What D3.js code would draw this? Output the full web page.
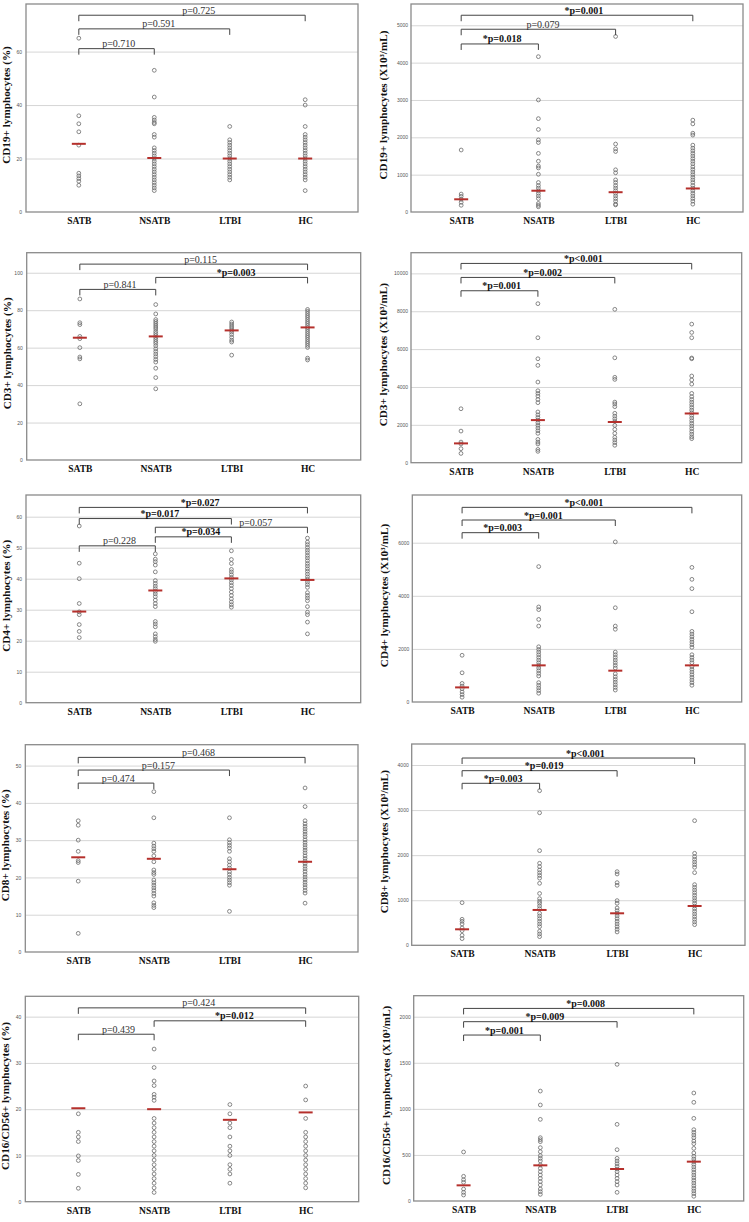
<!DOCTYPE html>
<html><head><meta charset="utf-8">
<script src="https://cdn.jsdelivr.net/npm/d3@7"></script>
<style>
html,body{margin:0;padding:0;background:#fff;}
svg{display:block;}
</style></head>
<body>
<svg id="chart" width="749" height="1222"></svg>
<script>
const groups = ["SATB", "NSATB", "LTBI", "HC"];

// ---- CD19+ (%) ----
const cd19Pct = [
  [65, 36, 33, 30, 25, 14.5, 13.5, 12.5, 11.5, 10],
  [53, 43, 35.4, 34.4, 33.5, 33, 29, 28, 24, 23, 22, 21, 20, 19, 18, 17, 16, 15, 14, 13, 12, 11, 10, 9, 8],
  [32, 27, 26, 25, 24, 23, 22, 21, 20, 19, 18, 17, 16, 15, 14, 13, 12],
  [42, 40, 32, 29, 28, 27, 26, 25, 24, 23, 22, 21, 20, 19, 18, 17, 16, 15, 14, 13, 12, 8]
];
const cd19PctMed = [25.5, 20.2, 20, 20];
const cd19PctTicks = [0, 20, 40, 60];
const cd19PctP = [[0, 3, 73.6, "p=0.725"], [0, 2, 68.5, "p=0.591"], [0, 1, 61.1, "p=0.710"]];

// ---- CD19+ (abs) ----
const cd19Abs = [
  [1660, 480, 420, 340, 260, 180],
  [4160, 3000, 2500, 2210, 1930, 1860, 1570, 1360, 1230, 1180, 1010, 790, 710, 640, 570, 500, 430, 360, 230, 180, 140],
  [4700, 1820, 1690, 1620, 1130, 1050, 860, 790, 710, 640, 570, 500, 430, 360, 290, 210, 190],
  [2460, 2360, 2110, 2060, 1790, 1710, 1640, 1570, 1500, 1430, 1360, 1290, 1210, 1140, 1070, 1000, 930, 860, 790, 710, 640, 570, 500, 430, 360, 290, 210]
];
const cd19AbsMed = [340, 570, 530, 630];
const cd19AbsTicks = [0, 1000, 2000, 3000, 4000, 5000];
const cd19AbsP = [[0, 3, 5269, "*p=0.001"], [0, 2, 4894, "p=0.079"], [0, 1, 4500, "*p=0.018"]];

// ---- CD3+ (%) ----
const cd3Pct = [
  [86, 73.3, 72.3, 66, 64.8, 60, 55, 54, 30],
  [83, 78, 75, 74, 73, 72, 71, 70, 68.7, 67.6, 66.5, 65.5, 64.4, 63.3, 62.3, 61, 59.4, 58, 56.6, 55.2, 53.7, 52.3, 49, 44, 38],
  [73.7, 72.6, 71.5, 70.5, 69.4, 68.3, 67, 65.5, 64, 63, 56],
  [80.4, 79.4, 78.3, 77.2, 76.2, 75.1, 74, 73, 71.9, 70.8, 69.8, 68.7, 67.6, 66.5, 65.5, 64.4, 63.3, 62.3, 61.2, 60.1, 54.4, 53.4]
];
const cd3PctMed = [65.3, 66, 69.2, 70.8];
const cd3PctTicks = [0, 20, 40, 60, 80, 100];
const cd3PctP = [[0, 3, 104.6, "p=0.115"], [1, 3, 97.5, "*p=0.003"], [0, 1, 91.1, "p=0.841"]];

// ---- CD3+ (abs) ----
const cd3Abs = [
  [2850, 1670, 1090, 990, 740, 490],
  [8400, 6600, 5490, 5140, 4260, 3800, 3660, 3520, 3340, 3170, 2680, 2530, 2390, 2250, 2110, 1970, 1830, 1690, 1550, 1230, 1090, 990, 700, 600],
  [8100, 5540, 4510, 4400, 3200, 3100, 2960, 2610, 2460, 2320, 2180, 1970, 1760, 1550, 1340, 1200, 1060, 920],
  [7320, 6880, 6600, 5530, 5490, 4580, 4370, 4150, 3660, 3490, 3340, 3200, 3060, 2920, 2780, 2640, 2500, 2360, 2220, 2080, 1940, 1800, 1650, 1510, 1370, 1270]
];
const cd3AbsMed = [1020, 2250, 2150, 2600];
const cd3AbsTicks = [0, 2000, 4000, 6000, 8000, 10000];
const cd3AbsP = [[0, 3, 10525, "*p<0.001"], [0, 2, 9786, "*p=0.002"], [0, 1, 9082, "*p=0.001"]];

// ---- CD4+ (%) ----
const cd4Pct = [
  [57, 45, 40, 32, 29.3, 28.4, 25.2, 23, 21],
  [48, 46.3, 45.5, 44.4, 42.2, 39.4, 38.5, 37.6, 36.8, 35.9, 35.1, 34.2, 33.1, 32, 31, 26.2, 25.4, 24.5, 22.2, 21.3, 20.4, 19.8],
  [49, 46.2, 44.9, 43, 42.2, 41.3, 40.4, 39.6, 38.7, 37.8, 36.8, 35.7, 34.6, 33.5, 32.5, 31.6, 30.8],
  [53.1, 51.8, 51, 50.1, 49.2, 48.4, 47.5, 46.7, 45.8, 44.9, 44.1, 43.2, 42.4, 41.5, 40.6, 39.8, 38.9, 38.1, 37.2, 35.5, 34.6, 33.8, 32.9, 31, 29.2, 28.4, 26, 22.2]
];
const cd4PctMed = [29.4, 36.2, 40.1, 39.6];
const cd4PctTicks = [0, 10, 20, 30, 40, 50, 60];
const cd4PctP = [[0, 3, 63, "*p=0.027"], [0, 2, 59.4, "*p=0.017"], [1, 3, 56.6, "p=0.057", 0.66], [1, 2, 53.5, "*p=0.034", 0.6], [0, 1, 50.6, "p=0.228"]];

// ---- CD4+ (abs) ----
const cd4Abs = [
  [1760, 1100, 700, 600, 500, 380, 280, 180],
  [5100, 3580, 3480, 3110, 2860, 2080, 1980, 1880, 1780, 1680, 1580, 1480, 1380, 1280, 1180, 1080, 980, 730, 630, 530, 430, 330],
  [6030, 3550, 2860, 2740, 1880, 1780, 1680, 1580, 1480, 1380, 1280, 1060, 950, 850, 750, 650, 550, 450],
  [5070, 4620, 4270, 3400, 2660, 2560, 2460, 2360, 2260, 2160, 2060, 1780, 1680, 1580, 1480, 1330, 1230, 1130, 1030, 930, 830, 730, 630]
];
const cd4AbsMed = [550, 1380, 1180, 1380];
const cd4AbsTicks = [0, 2000, 4000, 6000];
const cd4AbsP = [[0, 3, 7332, "*p<0.001"], [0, 2, 6855, "*p=0.001"], [0, 1, 6378, "*p=0.003"]];

// ---- CD8+ (%) ----
const cd8Pct = [
  [35.2, 34, 30, 27, 24.5, 24, 19, 5],
  [43, 36, 29.2, 28.4, 27.7, 27, 25.8, 24.2, 22, 21.3, 20.8, 19.3, 18.6, 17.9, 17.2, 16.5, 15.7, 15, 13.2, 12.5, 11.9],
  [36, 30.1, 29.3, 28.6, 27.9, 27, 25, 24.2, 23.3, 22.5, 21.5, 20.8, 20, 19.3, 18.6, 17.9, 10.9],
  [44, 39, 35.2, 34.4, 33.7, 33, 32.3, 31.6, 30.9, 30.1, 29.4, 28.7, 28, 27.3, 26.6, 25.8, 25.1, 24.4, 23.7, 23, 22.3, 21.6, 20.8, 20.1, 19.4, 18.7, 18, 17.3, 16.5, 15.8, 13.1]
];
const cd8PctMed = [25.4, 25, 22.2, 24.2];
const cd8PctTicks = [0, 10, 20, 30, 40, 50];
const cd8PctP = [[0, 3, 52.2, "p=0.468"], [0, 2, 48.8, "p=0.157"], [0, 1, 45.3, "p=0.474"]];

// ---- CD8+ (abs) ----
const cd8Abs = [
  [946, 577, 532, 473, 384, 325, 222, 148],
  [3430, 2940, 2100, 1820, 1745, 1670, 1610, 1550, 1490, 1375, 1150, 1035, 976, 932, 872, 813, 710, 651, 592, 532, 473, 414, 311, 251, 192],
  [1634, 1582, 1390, 1331, 991, 932, 828, 769, 710, 651, 592, 532, 473, 414, 355, 296],
  [2765, 2041, 1967, 1908, 1848, 1789, 1730, 1612, 1346, 1287, 1227, 1168, 1109, 1050, 991, 932, 872, 813, 754, 695, 636, 577, 518, 458]
];
const cd8AbsMed = [355, 784, 710, 872];
const cd8AbsTicks = [0, 1000, 2000, 3000, 4000];
const cd8AbsP = [[0, 3, 4155, "*p<0.001"], [0, 2, 3874, "*p=0.019"], [0, 1, 3594, "*p=0.003"]];

// ---- CD16/CD56+ (%) ----
const nkPct = [
  [19, 15, 14, 13, 9.9, 8.9, 5.9, 2.9],
  [33, 29, 26.1, 25.1, 23.2, 22.6, 21.9, 18, 17, 16, 15, 14, 13, 12, 11, 10, 9, 8, 7, 6, 5, 4, 3, 2],
  [21, 19, 17, 16, 14, 12, 11, 10, 8, 7, 6, 4],
  [25, 22, 18, 15, 14, 13, 12, 11, 10, 9, 8, 7, 6, 5, 4, 3]
];
const nkPctMed = [20.2, 20, 17.7, 19.3];
const nkPctTicks = [0, 10, 20, 30, 40];
const nkPctP = [[0, 3, 41.9, "p=0.424"], [1, 3, 39.1, "*p=0.012"], [0, 1, 36.2, "p=0.439"]];

// ---- CD16/CD56+ (abs) ----
const nkAbs = [
  [532, 268, 231, 203, 130, 94, 65],
  [1193, 1042, 886, 687, 665, 644, 579, 535, 492, 463, 434, 391, 354, 318, 282, 246, 210, 174, 130, 101, 72],
  [1483, 832, 557, 463, 434, 405, 376, 347, 318, 282, 246, 210, 174, 94],
  [1172, 1071, 897, 774, 745, 716, 687, 651, 622, 571, 521, 485, 456, 427, 398, 369, 340, 311, 282, 253, 224, 195, 166, 137, 109, 80, 51]
];
const nkAbsMed = [170, 387, 347, 427];
const nkAbsTicks = [0, 500, 1000, 1500, 2000];
const nkAbsP = [[0, 3, 2090, "*p=0.008"], [0, 2, 1946, "*p=0.009"], [0, 1, 1801, "*p=0.001"]];

const titles = [
  "CD19+ lymphocytes (%)", "CD19+ lymphocytes (X10\u00b3/mL)",
  "CD3+ lymphocytes (%)", "CD3+ lymphocytes (X10\u00b3/mL)",
  "CD4+ lymphocytes (%)", "CD4+ lymphocytes (X10\u00b3/mL)",
  "CD8+ lymphocytes (%)", "CD8+ lymphocytes (X10\u00b3/mL)",
  "CD16/CD56+ lymphocytes (%)", "CD16/CD56+ lymphocytes (X10\u00b3/mL)"
];

// ---- layout (plot box + y domain top) ----
const layout = [
  {x: 26, y: 4, w: 332, h: 208, top: 77.8},
  {x: 411, y: 4, w: 332, h: 208, top: 5570},
  {x: 26.7, y: 252.7, w: 334, h: 207.3, top: 110.7},
  {x: 411, y: 252.7, w: 330.7, h: 210, top: 11092},
  {x: 26, y: 495, w: 334.7, h: 207.7, top: 67},
  {x: 412.3, y: 495, w: 329.4, h: 207, top: 7797},
  {x: 25.3, y: 744.7, w: 332.7, h: 207.3, top: 55.6},
  {x: 411.7, y: 744, w: 333.3, h: 201.3, top: 4466},
  {x: 25.3, y: 996.3, w: 333.4, h: 205.4, top: 44.4},
  {x: 413.7, y: 995.7, w: 330, h: 205.3, top: 2228}
];

const panels = [
  [cd19Pct, cd19PctMed, cd19PctTicks, cd19PctP],
  [cd19Abs, cd19AbsMed, cd19AbsTicks, cd19AbsP],
  [cd3Pct, cd3PctMed, cd3PctTicks, cd3PctP],
  [cd3Abs, cd3AbsMed, cd3AbsTicks, cd3AbsP],
  [cd4Pct, cd4PctMed, cd4PctTicks, cd4PctP],
  [cd4Abs, cd4AbsMed, cd4AbsTicks, cd4AbsP],
  [cd8Pct, cd8PctMed, cd8PctTicks, cd8PctP],
  [cd8Abs, cd8AbsMed, cd8AbsTicks, cd8AbsP],
  [nkPct, nkPctMed, nkPctTicks, nkPctP],
  [nkAbs, nkAbsMed, nkAbsTicks, nkAbsP]
];

const SERIF = "'Liberation Serif', 'Times New Roman', serif";
const svg = d3.select("#chart");

panels.forEach(([vals, med, ticks, brackets], i) => {
  const L = layout[i];
  const right = i % 2 === 1;
  const g = svg.append("g");
  const x = d3.scalePoint().domain(groups).range([L.x, L.x + L.w]).padding(right ? 0.65 : 0.7);
  const y = d3.scaleLinear().domain([0, L.top]).range([L.y + L.h, L.y]);

  // gridlines
  const grid = g.append("g").attr("transform", `translate(${L.x},0)`)
    .call(d3.axisLeft(y).tickValues(ticks.filter(t => t > 0)).tickSize(-L.w).tickFormat(""));
  grid.select(".domain").remove();
  grid.selectAll("line").attr("stroke", "#d6d6d6").attr("stroke-width", 1);

  // y tick labels
  const ya = g.append("g").attr("transform", `translate(${L.x},0)`)
    .call(d3.axisLeft(y).tickValues(ticks).tickSize(0).tickPadding(right ? 3 : 4).tickFormat(d3.format("d")));
  ya.select(".domain").remove();
  ya.selectAll("text").attr("font-family", "'Liberation Sans', Arial, sans-serif")
    .attr("font-size", 5).attr("fill", "#555");

  // x labels
  const xa = g.append("g").attr("transform", `translate(0,${L.y + L.h})`)
    .call(d3.axisBottom(x).tickSize(0).tickPadding(5));
  xa.select(".domain").remove();
  xa.selectAll("text").attr("font-family", SERIF).attr("font-weight", "bold")
    .attr("font-size", 9.6).attr("fill", "#111");

  // frame
  g.append("rect").attr("x", L.x).attr("y", L.y).attr("width", L.w).attr("height", L.h)
    .attr("fill", "none").attr("stroke", "#8a8a8a").attr("stroke-width", 1.3);

  // y title
  g.append("text")
    .attr("transform", `translate(${L.x - (right ? 28 : 20)},${L.y + L.h / 2 - 3}) rotate(-90)`)
    .attr("text-anchor", "middle").attr("dominant-baseline", "central")
    .attr("font-family", SERIF).attr("font-weight", "bold").attr("font-size", 11.2)
    .attr("fill", "#111").text(titles[i]);

  // points
  groups.forEach((grp, gi) => {
    g.append("g").selectAll("circle").data(vals[gi]).join("circle")
      .attr("cx", x(grp)).attr("cy", d => y(d)).attr("r", 1.9)
      .attr("fill", "none").attr("stroke", "#6a6a6a").attr("stroke-width", 0.8);
  });

  // medians
  g.append("g").selectAll("line").data(med).join("line")
    .attr("x1", (d, gi) => x(groups[gi]) - 7).attr("x2", (d, gi) => x(groups[gi]) + 7)
    .attr("y1", d => y(d)).attr("y2", d => y(d))
    .attr("stroke", "#b5302c").attr("stroke-width", 2);

  // significance brackets
  brackets.forEach(([a, b, v, label, frac]) => {
    const x1 = x(groups[a]), x2 = x(groups[b]), yy = y(v);
    g.append("path")
      .attr("d", `M${x1},${yy + 6}V${yy}H${x2}V${yy + 6}`)
      .attr("fill", "none").attr("stroke", "#444").attr("stroke-width", 1);
    const bold = label.startsWith("*");
    const f = frac === undefined ? 0.53 : frac;
    g.append("text").attr("x", x1 + (x2 - x1) * f).attr("y", yy - 1.5)
      .attr("text-anchor", "middle").attr("font-family", SERIF)
      .attr("font-weight", bold ? "bold" : "normal").attr("font-size", 10)
      .attr("fill", bold ? "#111" : "#333").text(label);
  });
});
</script>
</body></html>
